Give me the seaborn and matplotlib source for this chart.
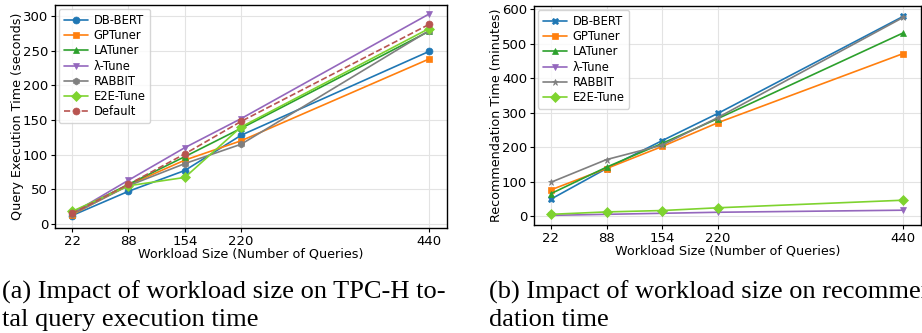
import matplotlib
matplotlib.use("Agg")
import matplotlib.pyplot as plt
import seaborn as sns
import pandas as pd

workload = [22, 88, 154, 220, 440]

# (a) Query execution time (seconds)
exec_dbbert = [12, 47, 77, 128, 249]
exec_gptuner = [13, 56, 92, 120, 238]
exec_latuner = [16, 57, 97, 138, 278]
exec_lambda = [15, 63, 110, 152, 303]
exec_rabbit = [14, 55, 87, 115, 279]
exec_e2e = [18, 55, 67, 140, 282]
exec_default = [15, 57, 101, 148, 288]

# (b) Recommendation time (minutes)
rec_dbbert = [49, 138, 219, 298, 580]
rec_gptuner = [76, 138, 202, 271, 472]
rec_latuner = [65, 142, 211, 283, 532]
rec_lambda = [2, 5, 8, 11, 17]
rec_rabbit = [98, 164, 206, 286, 577]
rec_e2e = [5, 12, 16, 24, 46]

sns.set_theme(style="ticks", rc={
    "axes.edgecolor": "black",
    "xtick.color": "black",
    "ytick.color": "black",
    "axes.labelcolor": "black",
    "text.color": "black",
})
plt.rcParams["font.family"] = ["DejaVu Sans"]

C_BLUE = "#1f77b4"
C_ORANGE = "#ff7f0e"
C_GREEN = "#2ca02c"
C_PURPLE = "#9467bd"
C_GRAY = "#7f7f7f"
C_LIME = "#7ed32f"
C_DEF = "#b85450"

fig = plt.figure(figsize=(9.22, 3.33), dpi=100)
W, H = 922, 333
axL = fig.add_axes([55 / W, (H - 228) / H, (447 - 55) / W, (228 - 5) / H])
axR = fig.add_axes([534 / W, (H - 225) / H, (921 - 534) / W, (225 - 6) / H])

left_series = [
    ("DB-BERT", exec_dbbert, C_BLUE, "o", "-"),
    ("GPTuner", exec_gptuner, C_ORANGE, "s", "-"),
    ("LATuner", exec_latuner, C_GREEN, "^", "-"),
    ("λ-Tune", exec_lambda, C_PURPLE, "v", "-"),
    ("RABBIT", exec_rabbit, C_GRAY, "h", "-"),
    ("E2E-Tune", exec_e2e, C_LIME, "D", "-"),
    ("Default", exec_default, C_DEF, "o", "--"),
]
right_series = [
    ("DB-BERT", rec_dbbert, C_BLUE, "X", "-"),
    ("GPTuner", rec_gptuner, C_ORANGE, "s", "-"),
    ("LATuner", rec_latuner, C_GREEN, "^", "-"),
    ("λ-Tune", rec_lambda, C_PURPLE, "v", "-"),
    ("RABBIT", rec_rabbit, C_GRAY, "*", "-"),
    ("E2E-Tune", rec_e2e, C_LIME, "D", "-"),
]

for ax, series in ((axL, left_series), (axR, right_series)):
    for name, vals, col, mk, ls in series:
        df = pd.DataFrame({"x": workload, "y": vals})
        sns.lineplot(data=df, x="x", y="y", ax=ax, color=col, marker=mk,
                     linestyle=ls, markersize=5, linewidth=1.2,
                     markeredgewidth=0.5, markeredgecolor=col, label=name)
    ax.set_xticks(workload)
    ax.set_xlim(2, 461)
    ax.grid(True, color="#e3e3e3", linewidth=0.8)
    ax.set_axisbelow(True)
    ax.tick_params(labelsize=9.5, length=3, width=0.8, pad=2)
    ax.set_xlabel("Workload Size (Number of Queries)", fontsize=9.2, labelpad=0)
    for s in ax.spines.values():
        s.set_linewidth(1.0)
        s.set_visible(True)

axL.set_ylim(-6, 316)
axL.set_yticks([0, 50, 100, 150, 200, 250, 300])
axL.set_ylabel("Query Execution Time (seconds)", fontsize=9.2, labelpad=-1)
axR.set_ylim(-26, 610)
axR.set_yticks([0, 100, 200, 300, 400, 500, 600])
axR.set_ylabel("Recommendation Time (minutes)", fontsize=9.2, labelpad=-1)

for ax in (axL, axR):
    ax.legend(loc="upper left", fontsize=8.3, frameon=True, framealpha=0.8,
              edgecolor="#cccccc", fancybox=True, borderpad=0.4,
              labelspacing=0.2, handlelength=2.1, handletextpad=0.5,
              borderaxespad=0.35)

cap_kw = dict(family=["Liberation Serif", "DejaVu Serif"], fontsize=19,
              va="baseline", ha="left")
fig.text(2 / W, 1 - 299 / H, "(a) Impact of workload size on TPC-H to-", **cap_kw)
fig.text(2 / W, 1 - 326 / H, "tal query execution time", **cap_kw)
fig.text(489 / W, 1 - 299 / H, "(b) Impact of workload size on recommen", **cap_kw)
fig.text(489 / W, 1 - 326 / H, "dation time", **cap_kw)

fig.savefig("out.png", dpi=100)
